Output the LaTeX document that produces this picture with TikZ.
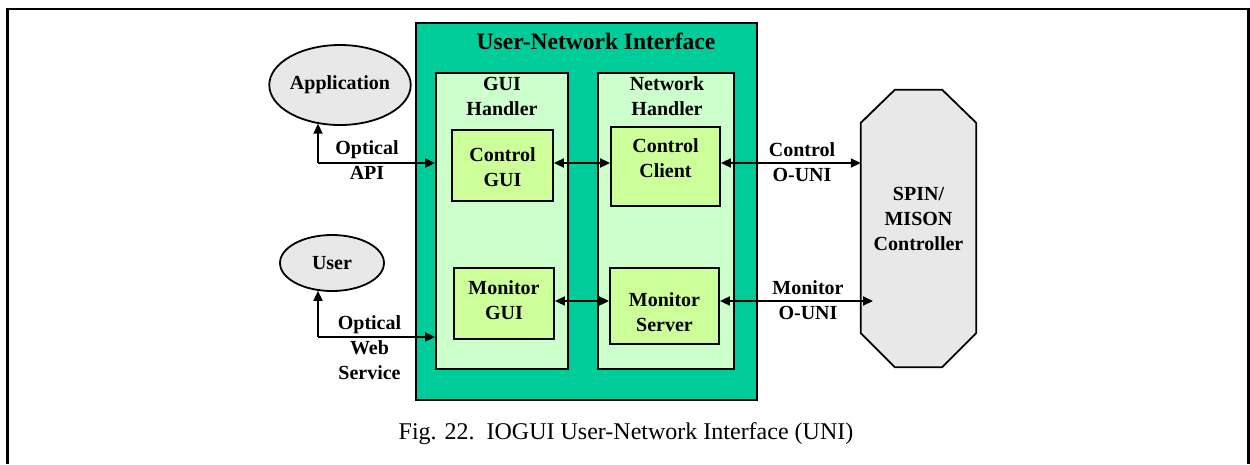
\documentclass[tikz,border=0pt]{standalone}
\usepackage{fontspec}
\setmainfont{Liberation Serif}
\usetikzlibrary{arrows.meta,calc,shapes.geometric}
\definecolor{unigreen}{RGB}{0,204,153}
\definecolor{handlergreen}{RGB}{204,255,204}
\definecolor{boxgreen}{RGB}{204,255,153}
\definecolor{lightgray}{RGB}{232,232,232}
\tikzset{
  lbl/.style={font=\fontsize{20}{25}\selectfont\bfseries, align=center, inner sep=0pt},
  box/.style={draw, line width=1.8pt, inner sep=0pt},
  ell/.style={draw, ellipse, line width=1.8pt, fill=lightgray, inner sep=0pt, font=\fontsize{20}{25}\selectfont\bfseries},
  biarrow/.style={line width=1.8pt, {Triangle[length=10pt,width=9pt]}-{Triangle[length=10pt,width=9pt]}},
  uniarrow/.style={line width=1.8pt, -{Triangle[length=10pt,width=9pt]}},
  octa/.style={draw, line width=1.8pt, fill=lightgray, line join=miter}
}
\begin{document}
\begin{tikzpicture}[x=1pt,y=-1pt]
\useasboundingbox (0,0) rectangle (1250,464);
% outer frame
\coordinate (fbl) at (7.5,464);
\coordinate (ftl) at (7.5,9);
\coordinate (ftr) at (1248.5,9);
\coordinate (fbr) at (1248.5,464);
\draw[line width=2.4pt] (fbl) -- (ftl) -- (ftr) -- (fbr);

% UNI box
\node[box, fill=unigreen, minimum width=341pt, minimum height=377pt] (uni) at (586.5,211.5) {};
\node[lbl, font=\fontsize{23.5}{28}\selectfont\bfseries] (unititle) at (596,41) {User-Network Interface};

% handlers
\node[box, fill=handlergreen, minimum width=132pt, minimum height=296pt] (guih) at (502,221) {};
\node[box, fill=handlergreen, minimum width=136pt, minimum height=296pt] (neth) at (666,221) {};
\node[lbl] (guihtext) at (502,96.5) {GUI\\Handler};
\node[lbl] (nethtext) at (667,96.5) {Network\\Handler};

% inner boxes
\node[box, fill=boxgreen, minimum width=101pt, minimum height=71pt] (cgui) at (502.5,165.5) {};
\node[lbl] (cguitext) at (502.5,167.5) {Control\\GUI};
\node[box, fill=boxgreen, minimum width=100pt, minimum height=71pt] (mgui) at (504,303.5) {};
\node[lbl] (mguitext) at (504,300.5) {Monitor\\GUI};
\node[box, fill=boxgreen, minimum width=109pt, minimum height=79pt] (cclient) at (665.5,166.5) {};
\node[lbl] (cclienttext) at (665.5,158.5) {Control\\Client};
\node[box, fill=boxgreen, minimum width=109pt, minimum height=76pt] (mserver) at (664.5,306) {};
\node[lbl] (mservertext) at (664.5,312.5) {Monitor\\Server};

% SPIN/MISON controller (octagon)
\node[minimum width=115pt, minimum height=277pt, inner sep=0pt] (spin) at (918.5,228.5) {};
\draw[octa] ([xshift=34pt]spin.north west) -- ([xshift=-34pt]spin.north east)
  -- ([yshift=-33pt]spin.north east) -- ([yshift=34pt]spin.south east)
  -- ([xshift=-34pt]spin.south east) -- ([xshift=34pt]spin.south west)
  -- ([yshift=34pt]spin.south west) -- ([yshift=-33pt]spin.north west) -- cycle;
\node[lbl] (spintext) at (918.5,219) {SPIN/\\MISON\\Controller};

% ellipses
\node[ell, minimum width=118pt, minimum height=80pt] (app) at (340,85) {Application};
\node[ell, minimum width=104pt, minimum height=56pt] (user) at (332,263) {User};

% connector rows
\coordinate (cy) at (0,163);
\coordinate (my) at (0,301);
\coordinate (apic) at (318,163);
\coordinate (wsc) at (318,337);
\coordinate (monend) at (873,301);

% left connectors
\draw[uniarrow] (apic) -- (apic |- app.-121);
\draw[uniarrow] (apic) -- (guih.west |- apic);
\draw[uniarrow] (wsc) -- (wsc |- user.-117);
\draw[uniarrow] (wsc) -- (guih.west |- wsc);
\node[lbl] (apitext) at (367,160.5) {Optical\\API};
\node[lbl] (wstext) at (369.5,348) {Optical\\Web\\Service};

% internal connectors
\draw[biarrow] (cgui.east |- cy) -- (cclient.west |- cy);
\draw[biarrow] (mgui.east |- my) -- (mserver.west |- my);

% O-UNI connectors
\draw[biarrow] (cclient.east |- cy) -- (spin.west |- cy);
\draw[biarrow] (mserver.east |- my) -- (monend);
\node[lbl] (cunitext) at (802,162.5) {Control\\O-UNI};
\node[lbl] (munitext) at (808,300) {Monitor\\O-UNI};

% caption
\node[inner sep=0pt, font=\fontsize{24}{28}\selectfont] (caption) at (626,434) {Fig. 22.\ \ IOGUI User-Network Interface (UNI)};
\end{tikzpicture}
\end{document}
